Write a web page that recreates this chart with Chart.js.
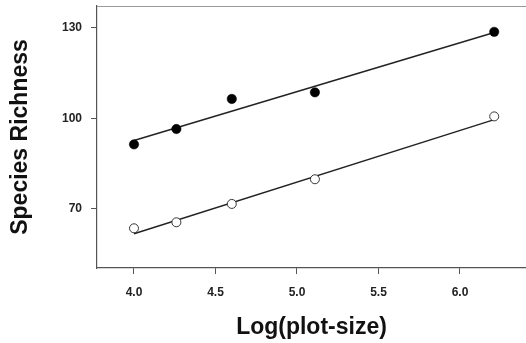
<!DOCTYPE html>
<html>
<head>
<meta charset="utf-8">
<script src="https://cdn.jsdelivr.net/npm/chart.js@4.4.1/dist/chart.umd.min.js"></script>
<style>
  html, body { margin: 0; padding: 0; background: #fff; }
  #wrap { width: 526px; height: 343px; }
</style>
</head>
<body>
<div id="wrap"><canvas id="c" width="526" height="343"></canvas></div>
<script>
// Data
const xVals = [4.0, 4.26, 4.60, 5.11, 6.21];
const filledVals = [91.3, 96.4, 106.4, 108.6, 128.7];
const openVals = [63.4, 65.4, 71.5, 79.7, 100.6];
const fitX = [4.0, 6.21];
const fitFilled = [92.6, 128.5];
const fitOpen = [61.6, 99.5];
const xTicks = [4.0, 4.5, 5.0, 5.5, 6.0];
const yTicks = [70, 100, 130];

const pts = (xs, ys) => xs.map((x, i) => ({x: x, y: ys[i]}));

const zeroPad = s => { s.paddingTop = 0; s.paddingBottom = 0; s.paddingLeft = 0; s.paddingRight = 0; };

const topBorder = {
  id: 'topBorder',
  afterDraw(chart) {
    const {ctx, chartArea} = chart;
    ctx.save();
    ctx.strokeStyle = '#9a9a9a';
    ctx.lineWidth = 1.2;
    ctx.beginPath();
    ctx.moveTo(chartArea.left, chartArea.top + 0.5);
    ctx.lineTo(chartArea.right, chartArea.top + 0.5);
    ctx.stroke();
    ctx.restore();
  }
};

new Chart(document.getElementById('c'), {
  type: 'scatter',
  data: {
    datasets: [
      { label: 'fit filled', data: pts(fitX, fitFilled), showLine: true, borderColor: '#222', borderWidth: 1.4, pointRadius: 0, order: 3 },
      { label: 'fit open', data: pts(fitX, fitOpen), showLine: true, borderColor: '#222', borderWidth: 1.4, pointRadius: 0, order: 3 },
      { label: 'filled', data: pts(xVals, filledVals), pointRadius: 4.7, pointBackgroundColor: '#000', pointBorderColor: '#000', pointBorderWidth: 0.5, order: 1 },
      { label: 'open', data: pts(xVals, openVals), pointRadius: 4.5, pointBackgroundColor: '#fff', pointBorderColor: '#222', pointBorderWidth: 0.9, order: 1 }
    ]
  },
  options: {
    responsive: false,
    animation: false,
    devicePixelRatio: 1,
    layout: { autoPadding: false, padding: { top: 6, left: 0, right: 0, bottom: 0 } },
    plugins: { legend: { display: false }, tooltip: { enabled: false } },
    scales: {
      x: {
        type: 'linear',
        min: 3.773,
        max: 6.405,
        afterFit(s) { s.height = 75; zeroPad(s); },
        afterBuildTicks(s) { s.ticks = xTicks.map(v => ({value: v})); },
        grid: { drawOnChartArea: false, drawTicks: true, tickLength: 6, color: '#555', lineWidth: 1 },
        border: { display: true, color: '#555', width: 1.2 },
        ticks: {
          padding: 11,
          color: '#222',
          font: { family: 'Liberation Sans, Arial, sans-serif', size: 12, weight: 'bold' },
          callback: v => Number(v).toFixed(1),
          maxRotation: 0
        },
        title: {
          display: true,
          text: 'Log(plot-size)',
          color: '#111',
          padding: { top: 0, bottom: 2 },
          font: { family: 'Liberation Sans, Arial, sans-serif', size: 23, weight: 'bold' }
        }
      },
      y: {
        type: 'linear',
        min: 50.2,
        max: 137.3,
        afterFit(s) { s.width = 97; zeroPad(s); },
        afterBuildTicks(s) { s.ticks = yTicks.map(v => ({value: v})); },
        grid: { drawOnChartArea: false, drawTicks: true, tickLength: 6, color: '#555', lineWidth: 1 },
        border: { display: true, color: '#555', width: 1.2 },
        ticks: {
          padding: 9,
          color: '#222',
          font: { family: 'Liberation Sans, Arial, sans-serif', size: 12, weight: 'bold' },
          callback: v => String(v)
        },
        title: {
          display: true,
          text: 'Species Richness',
          color: '#111',
          padding: { top: 7, bottom: 0 },
          font: { family: 'Liberation Sans, Arial, sans-serif', size: 23, weight: 'bold' }
        }
      }
    }
  },
  plugins: [topBorder]
});
</script>
</body>
</html>
